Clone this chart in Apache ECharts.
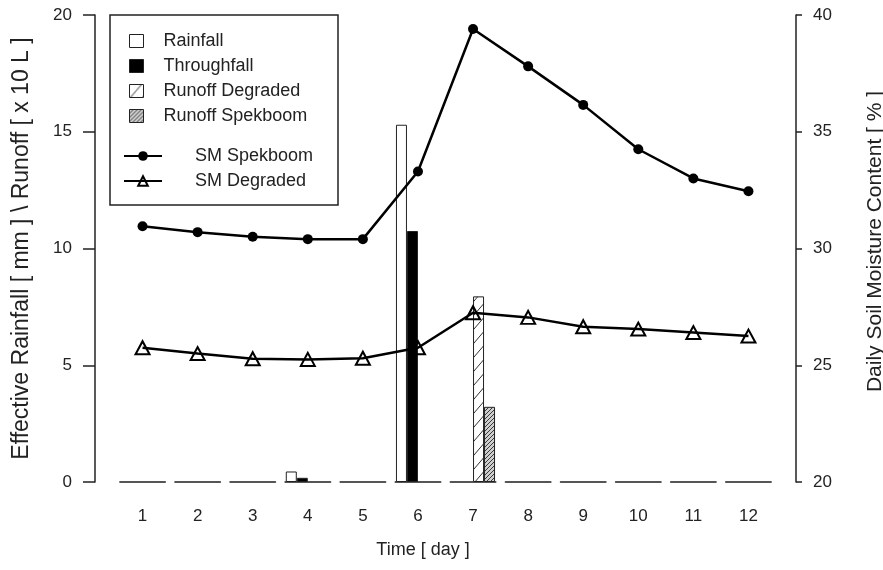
<!DOCTYPE html>
<html>
<head>
<meta charset="utf-8">
<script src="https://cdn.jsdelivr.net/npm/echarts@6/dist/echarts.min.js"></script>
<style>
  html, body { margin: 0; padding: 0; background: #fff; }
  #chart { width: 883px; height: 570px; }
</style>
</head>
<body>
<div id="chart"></div>
<script>
// data
var days = ["1", "2", "3", "4", "5", "6", "7", "8", "9", "10", "11", "12"];
var rainfall = [0, 0, 0, 0.45, 0, 15.3, 0, 0, 0, 0, 0, 0];
var throughfall = [0, 0, 0, 0.18, 0, 10.75, 0, 0, 0, 0, 0, 0];
var runoffDegraded = [0, 0, 0, 0, 0, 0, 7.95, 0, 0, 0, 0, 0];
var runoffSpekboom = [0, 0, 0, 0, 0, 0, 3.22, 0, 0, 0, 0, 0];
var smSpekboom = [30.95, 30.7, 30.5, 30.4, 30.4, 33.3, 39.4, 37.8, 36.15, 34.25, 33.0, 32.45];
var smDegraded = [25.75, 25.5, 25.28, 25.25, 25.3, 25.75, 27.25, 27.05, 26.65, 26.55, 26.4, 26.25];

var font = "'Liberation Sans', Arial, sans-serif";
var ink = "#222";

// hatch fill tiles
function hatch(w, h, bg, fg) {
  var c = document.createElement("canvas");
  c.width = w;
  c.height = h;
  var g = c.getContext("2d");
  g.fillStyle = bg;
  g.fillRect(0, 0, w, h);
  g.strokeStyle = fg;
  g.lineWidth = 1;
  g.beginPath();
  [-w, 0, w].forEach(function (dx) {
    g.moveTo(dx, h);
    g.lineTo(dx + w, 0);
  });
  g.stroke();
  return { image: c, repeat: "repeat" };
}
var sparseHatch = hatch(12, 14, "#fff", "#333");
var denseHatch = hatch(4, 4, "#cfcfcf", "#3a3a3a");

// 0 = no bar on that day
function bars(arr) {
  return arr.map(function (v) { return v === 0 ? null : v; });
}

function barSeries(name, arr, fill) {
  return {
    name: name,
    type: "bar",
    yAxisIndex: 0,
    data: bars(arr),
    barWidth: 11,
    barGap: "0%",
    itemStyle: { color: fill, borderColor: ink, borderWidth: 1 }
  };
}

var myChart = echarts.init(document.getElementById("chart"));

var option = {
  animation: false,
  backgroundColor: "#fff",
  textStyle: { fontFamily: font, color: ink },
  grid: { left: 115, right: 107, top: 15, bottom: 88, containLabel: false, outerBoundsMode: "none" },
  legend: [
    {
      data: ["Rainfall", "Throughfall", "Runoff Degraded", "Runoff Spekboom"],
      orient: "vertical",
      left: 129,
      top: 32,
      padding: 0,
      icon: "rect",
      itemWidth: 14,
      itemHeight: 13,
      itemGap: 7,
      selectedMode: false,
      itemStyle: { borderColor: ink, borderWidth: 1 },
      textStyle: { fontFamily: font, fontSize: 18, lineHeight: 18, color: ink, padding: [0, 0, 0, 15] }
    },
    {
      data: ["SM Spekboom", "SM Degraded"],
      orient: "vertical",
      left: 123,
      top: 147,
      padding: 0,
      itemWidth: 38,
      itemHeight: 12,
      itemGap: 7,
      selectedMode: false,
      textStyle: { fontFamily: font, fontSize: 18, lineHeight: 18, color: ink, padding: [0, 0, 0, 28] }
    }
  ],
  graphic: [
    {
      type: "rect",
      shape: { x: 110, y: 15, width: 228, height: 190 },
      style: { fill: "none", stroke: ink, lineWidth: 1.5 },
      z: 10
    }
  ],
  xAxis: {
    type: "category",
    data: days,
    boundaryGap: true,
    name: "Time [ day ]",
    nameLocation: "middle",
    nameGap: 59,
    nameTextStyle: { fontFamily: font, fontSize: 18, color: ink, padding: [0, 45, 0, 0] },
    axisLine: {
      show: true,
      lineStyle: { color: "#555", width: 2, type: [45, 10.08], dashOffset: 50 }
    },
    axisTick: { show: false },
    axisLabel: { fontFamily: font, fontSize: 17, color: ink, margin: 26 },
    splitLine: { show: false }
  },
  yAxis: [
    {
      type: "value",
      position: "left",
      offset: 20,
      min: 0,
      max: 20,
      interval: 5,
      name: "Effective Rainfall [ mm ] \\ Runoff [ x 10 L ]",
      nameLocation: "middle",
      nameRotate: 90,
      nameGap: 62,
      nameTextStyle: { fontFamily: font, fontSize: 23, color: ink },
      axisLine: { show: true, lineStyle: { color: ink, width: 1.5 } },
      axisTick: { show: true, inside: false, length: 12, lineStyle: { color: ink, width: 1.5 } },
      axisLabel: { fontFamily: font, fontSize: 17, color: ink, margin: 23 },
      splitLine: { show: false }
    },
    {
      type: "value",
      position: "right",
      offset: 20,
      min: 20,
      max: 40,
      interval: 5,
      name: "Daily Soil Moisture Content [ % ]",
      nameLocation: "middle",
      nameRotate: 90,
      nameGap: 69,
      nameTextStyle: { fontFamily: font, fontSize: 21, color: ink, padding: [0, 0, 0, 14] },
      axisLine: { show: true, lineStyle: { color: ink, width: 1.5 } },
      axisTick: { show: true, inside: false, length: 6, lineStyle: { color: ink, width: 1.5 } },
      axisLabel: { fontFamily: font, fontSize: 17, color: ink, margin: 17 },
      splitLine: { show: false }
    }
  ],
  series: [
    barSeries("Rainfall", rainfall, "#fff"),
    barSeries("Throughfall", throughfall, "#000"),
    barSeries("Runoff Degraded", runoffDegraded, sparseHatch),
    barSeries("Runoff Spekboom", runoffSpekboom, denseHatch),
    {
      name: "SM Spekboom",
      type: "line",
      yAxisIndex: 1,
      data: smSpekboom,
      symbol: "circle",
      symbolSize: 10,
      lineStyle: { color: "#000", width: 2.5 },
      itemStyle: { color: "#000", borderColor: "#000", borderWidth: 0 }
    },
    {
      name: "SM Degraded",
      type: "line",
      yAxisIndex: 1,
      data: smDegraded,
      symbol: "triangle",
      symbolSize: [14, 13],
      lineStyle: { color: "#000", width: 2.5 },
      itemStyle: { color: "rgba(255,255,255,0)", borderColor: "#000", borderWidth: 2 }
    }
  ]
};

myChart.setOption(option);
window.addEventListener("resize", function () {
  myChart.resize();
});
</script>
</body>
</html>
